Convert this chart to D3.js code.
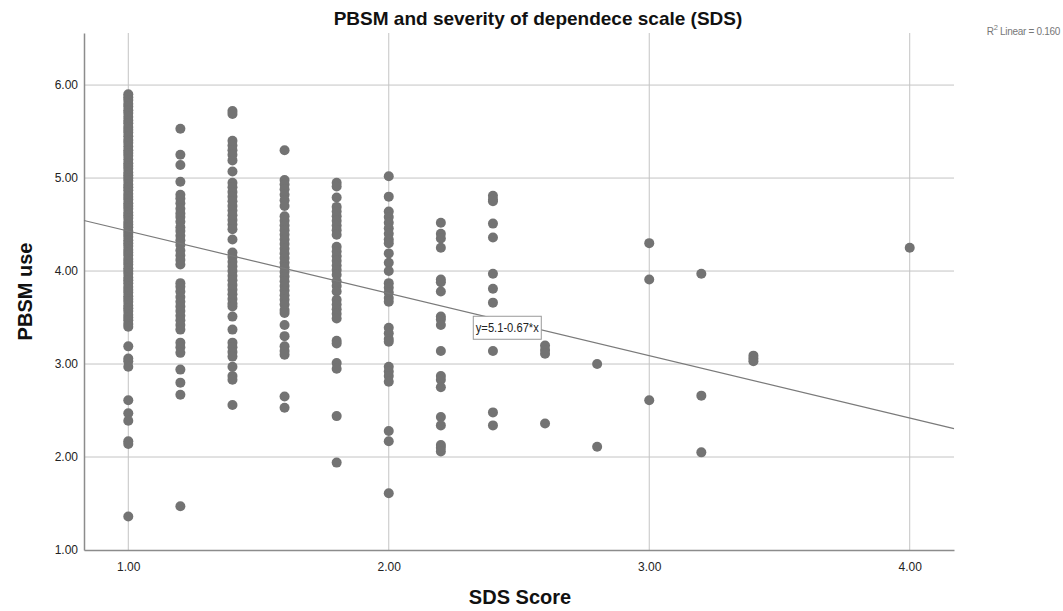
<!DOCTYPE html>
<html>
<head>
<meta charset="utf-8">
<style>
body { margin: 0; background: #fff; }
svg text { font-family: "Liberation Sans", Arial, sans-serif; }
</style>
</head>
<body>
<svg width="1063" height="611"></svg>
<script src="https://d3js.org/d3.v7.min.js"></script>
<script>

// SDS score levels and the PBSM values at each level
var sdsLevels = [1.0, 1.2, 1.4, 1.6, 1.8, 2.0, 2.2, 2.4, 2.6, 2.8, 3.0, 3.2, 3.4, 4.0];

var pbsmAt10 = [5.90, 5.87, 5.84, 5.80, 5.77, 5.73, 5.70, 5.66, 5.62, 5.59, 5.55, 5.52, 5.49, 5.45, 5.41,
  5.38, 5.34, 5.30, 5.27, 5.24, 5.20, 5.16, 5.13, 5.10, 5.06, 5.03, 5.00, 4.97, 4.93, 4.90, 4.87, 4.83,
  4.80, 4.77, 4.73, 4.70, 4.67, 4.63, 4.60, 4.57, 4.53, 4.50, 4.47, 4.43, 4.40, 4.37, 4.33, 4.30, 4.27,
  4.23, 4.20, 4.17, 4.13, 4.10, 4.07, 4.03, 4.00, 3.97, 3.93, 3.90, 3.87, 3.83, 3.80, 3.77, 3.73, 3.70,
  3.67, 3.63, 3.60, 3.57, 3.53, 3.50, 3.47, 3.43, 3.40, 3.19, 3.06, 3.03, 2.97, 2.61, 2.47, 2.39, 2.17,
  2.14, 1.36];
var pbsmAt12 = [5.53, 5.25, 5.14, 4.96, 4.82, 4.78, 4.73, 4.67, 4.62, 4.58, 4.53, 4.47, 4.43, 4.38, 4.33,
  4.28, 4.22, 4.17, 4.12, 4.07, 3.87, 3.83, 3.78, 3.72, 3.67, 3.62, 3.57, 3.52, 3.47, 3.42, 3.37, 3.23,
  3.18, 3.12, 2.94, 2.80, 2.67, 1.47];
var pbsmAt14 = [5.72, 5.69, 5.40, 5.35, 5.30, 5.25, 5.19, 5.07, 4.95, 4.90, 4.85, 4.80, 4.75, 4.70, 4.65,
  4.60, 4.55, 4.50, 4.45, 4.34, 4.20, 4.15, 4.10, 4.05, 4.00, 3.95, 3.90, 3.85, 3.80, 3.75, 3.70, 3.65,
  3.62, 3.51, 3.37, 3.23, 3.18, 3.13, 3.08, 2.97, 2.87, 2.83, 2.56];
var pbsmAt16 = [5.30, 4.98, 4.93, 4.88, 4.82, 4.76, 4.70, 4.59, 4.54, 4.49, 4.44, 4.39, 4.34, 4.29, 4.24,
  4.19, 4.14, 4.09, 4.04, 3.99, 3.94, 3.89, 3.84, 3.79, 3.74, 3.69, 3.64, 3.58, 3.55, 3.42, 3.30, 3.19,
  3.14, 3.10, 2.65, 2.53];
var pbsmAt18 = [4.95, 4.91, 4.79, 4.69, 4.64, 4.59, 4.54, 4.49, 4.44, 4.39, 4.26, 4.21, 4.16, 4.11, 4.06,
  4.01, 3.96, 3.89, 3.84, 3.78, 3.69, 3.64, 3.59, 3.54, 3.49, 3.25, 3.22, 3.01, 2.95, 2.44, 1.94];
var pbsmAt20 = [5.02, 4.80, 4.64, 4.58, 4.52, 4.46, 4.40, 4.34, 4.30, 4.19, 4.09, 4.00, 3.87, 3.82, 3.77,
  3.71, 3.67, 3.39, 3.33, 3.27, 3.24, 2.97, 2.92, 2.87, 2.81, 2.28, 2.17, 1.61];
var pbsmAt22 = [4.52, 4.40, 4.35, 4.25, 3.91, 3.88, 3.78, 3.51, 3.48, 3.42, 3.14, 2.87, 2.83, 2.75, 2.43,
  2.34, 2.13, 2.10, 2.06];
var pbsmAt24 = [4.81, 4.77, 4.75, 4.51, 4.36, 3.97, 3.81, 3.66, 3.14, 2.48, 2.34];
var pbsmAt26 = [3.20, 3.15, 3.11, 2.36];
var pbsmAt28 = [3.00, 2.11];
var pbsmAt30 = [4.30, 3.91, 2.61];
var pbsmAt32 = [3.97, 2.66, 2.05];
var pbsmAt34 = [3.09, 3.06, 3.03];
var pbsmAt40 = [4.25];

var pbsmByLevel = [pbsmAt10, pbsmAt12, pbsmAt14, pbsmAt16, pbsmAt18, pbsmAt20, pbsmAt22,
  pbsmAt24, pbsmAt26, pbsmAt28, pbsmAt30, pbsmAt32, pbsmAt34, pbsmAt40];

var xTicks = [1, 2, 3, 4];
var yTicks = [1, 2, 3, 4, 5, 6];

// linear fit shown on the chart
var fitIntercept = 5.1, fitSlope = -0.67;
var fitLabel = "y=5.1-0.67*x";
var rSquared = "0.160";

var svg = d3.select("svg"),
    plotLeft = 84, plotRight = 954, plotTop = 33, plotBottom = 550;

var x = d3.scaleLinear().domain([0.83, 4.17]).range([plotLeft, plotRight]);
var y = d3.scaleLinear().domain([1, 6.56]).range([plotBottom, plotTop]);

var points = [];
sdsLevels.forEach(function(s, i) {
  pbsmByLevel[i].forEach(function(v) { points.push({sds: s, pbsm: v}); });
});

/* grid lines */
svg.append("g")
  .selectAll("line")
  .data(xTicks)
  .enter().append("line")
    .attr("x1", function(d) { return x(d); })
    .attr("x2", function(d) { return x(d); })
    .attr("y1", plotTop)
    .attr("y2", plotBottom)
    .attr("stroke", "#c4c4c4")
    .attr("stroke-width", 1);

svg.append("g")
  .selectAll("line")
  .data(yTicks.slice(1))
  .enter().append("line")
    .attr("x1", plotLeft)
    .attr("x2", plotRight)
    .attr("y1", function(d) { return y(d); })
    .attr("y2", function(d) { return y(d); })
    .attr("stroke", "#c4c4c4")
    .attr("stroke-width", 1);

/* axes */
var xAxis = svg.append("g")
    .attr("transform", "translate(0," + plotBottom + ")")
    .call(d3.axisBottom(x).tickValues(xTicks).tickFormat(d3.format(".2f")).tickSize(0).tickPadding(12));
xAxis.select(".domain").attr("stroke", "#8c8c8c").attr("stroke-width", 1.5);
xAxis.selectAll("text").attr("font-size", 12).attr("fill", "#222");

var yAxis = svg.append("g")
    .attr("transform", "translate(" + plotLeft + ",0)")
    .call(d3.axisLeft(y).tickValues(yTicks).tickFormat(d3.format(".2f")).tickSize(0).tickPadding(6));
yAxis.select(".domain").attr("stroke", "#8c8c8c").attr("stroke-width", 1.5);
yAxis.selectAll("text").attr("font-size", 12).attr("fill", "#222");

/* points */
svg.append("g")
  .selectAll("circle")
  .data(points)
  .enter().append("circle")
    .attr("cx", function(d) { return x(d.sds); })
    .attr("cy", function(d) { return y(d.pbsm); })
    .attr("r", 5)
    .attr("fill", "#737373");

/* fit line */
var xd = x.domain();
svg.append("line")
    .attr("x1", x(xd[0]))
    .attr("y1", y(fitIntercept + fitSlope * xd[0]))
    .attr("x2", x(xd[1]))
    .attr("y2", y(fitIntercept + fitSlope * xd[1]))
    .attr("stroke", "#7a7a7a")
    .attr("stroke-width", 1.2);

/* fit label box */
var lab = svg.append("g").attr("transform", "translate(" + x(2.455) + "," + y(3.39) + ")");
lab.append("rect")
    .attr("x", -34).attr("y", -11.5)
    .attr("width", 68).attr("height", 23)
    .attr("fill", "#fff")
    .attr("stroke", "#999");
lab.append("text")
    .attr("text-anchor", "middle")
    .attr("dy", "0.35em")
    .attr("font-size", 12.5)
    .attr("textLength", 63)
    .attr("lengthAdjust", "spacingAndGlyphs")
    .attr("fill", "#222")
    .text(fitLabel);

/* R squared note */
var rt = svg.append("text")
    .attr("x", 1060)
    .attr("y", 35)
    .attr("text-anchor", "end")
    .attr("font-size", 10)
    .attr("letter-spacing", -0.3)
    .attr("fill", "#777");
rt.append("tspan").text("R");
rt.append("tspan").attr("dy", -5).attr("font-size", 7.5).text("2");
rt.append("tspan").attr("dy", 5).text(" Linear = " + rSquared);

/* titles */
svg.append("text")
    .attr("x", 538)
    .attr("y", 25)
    .attr("text-anchor", "middle")
    .attr("font-size", 19)
    .attr("font-weight", "bold")
    .attr("fill", "#111")
    .text("PBSM and severity of dependece scale (SDS)");

svg.append("text")
    .attr("x", 520)
    .attr("y", 604)
    .attr("text-anchor", "middle")
    .attr("font-size", 20)
    .attr("font-weight", "bold")
    .attr("fill", "#111")
    .text("SDS Score");

svg.append("text")
    .attr("transform", "translate(32," + ((plotTop + plotBottom) / 2) + ") rotate(-90)")
    .attr("text-anchor", "middle")
    .attr("font-size", 20)
    .attr("font-weight", "bold")
    .attr("fill", "#111")
    .text("PBSM use");

</script>
</body>
</html>
